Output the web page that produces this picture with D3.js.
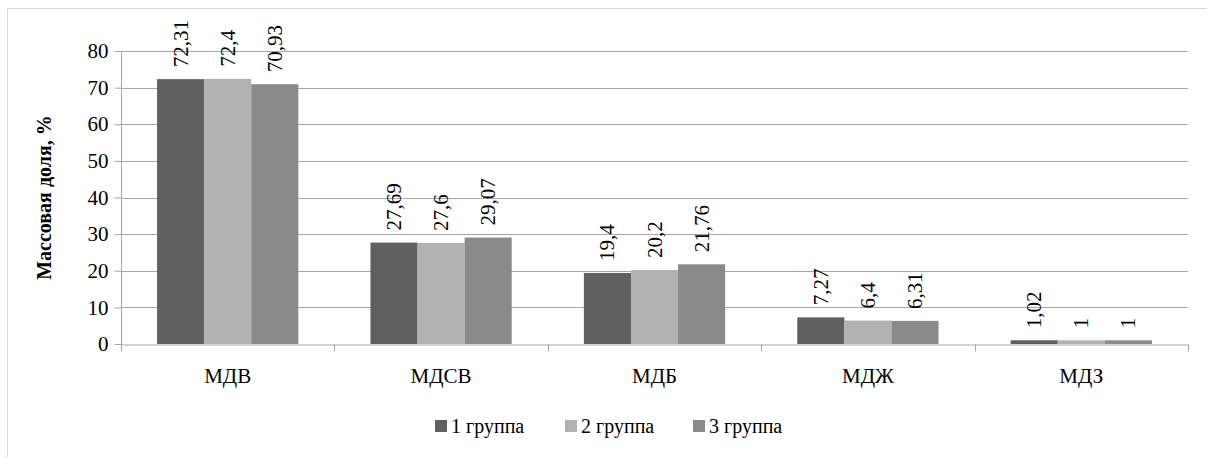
<!DOCTYPE html>
<html>
<head>
<meta charset="utf-8">
<script src="https://cdn.jsdelivr.net/npm/d3@7"></script>
<style>
  @font-face { font-family: "ChartSerif"; src: local("Liberation Serif"), local("LiberationSerif"), local("Times New Roman"); font-weight: normal; }
  @font-face { font-family: "ChartSerif"; src: local("Liberation Serif Bold"), local("LiberationSerif-Bold"), local("Times New Roman Bold"); font-weight: bold; }
  html, body { margin: 0; padding: 0; background: #fff; font-family: "Times New Roman"; }
  #chart text { font-family: "Times New Roman", "ChartSerif" !important; }
</style>
</head>
<body>
<svg id="chart" width="1207" height="457"></svg>
<script>
// Mass fractions by indicator for three groups
const categories = ["МДВ", "МДСВ", "МДБ", "МДЖ", "МДЗ"];
const seriesNames = ["1 группа", "2 группа", "3 группа"];
const group1 = [72.31, 27.69, 19.4, 7.27, 1.02];
const group2 = [72.4, 27.6, 20.2, 6.4, 1];
const group3 = [70.93, 29.07, 21.76, 6.31, 1];
const yTicks = [0, 10, 20, 30, 40, 50, 60, 70, 80];
const yTitle = "Массовая доля, %";

const seriesValues = [group1, group2, group3];
const colors = ["#606060", "#b2b2b2", "#8a8a8a"];
const FONT = '"Times New Roman"';

const svg = d3.select("#chart");
const W = 1207, H = 457;
const margin = { left: 121, right: 19, top: 51, bottom: 113 };
const plotW = W - margin.left - margin.right;
const plotH = H - margin.top - margin.bottom;

// Outer frame
svg.append("rect")
  .attr("x", 7.5).attr("y", 8.5)
  .attr("width", W).attr("height", H)
  .attr("fill", "none").attr("stroke", "#d9d9d9");

const g = svg.append("g").attr("transform", `translate(${margin.left},${margin.top})`);

const x0 = d3.scaleBand().domain(categories).range([0, plotW]).paddingInner(0).paddingOuter(0);
const x1 = d3.scaleBand().domain(seriesNames).range([0, x0.bandwidth()]).paddingInner(0).paddingOuter(0.766);
const y = d3.scaleLinear().domain([0, 80]).range([plotH, 0]);

// Horizontal gridlines
g.append("g").selectAll("line").data(yTicks.filter(d => d > 0)).join("line")
  .attr("x1", 0).attr("x2", plotW)
  .attr("y1", d => Math.round(y(d)) + 0.5).attr("y2", d => Math.round(y(d)) + 0.5)
  .attr("stroke", "#a6a6a6").attr("stroke-width", 1);

// Bars and rotated value labels
const groups = g.append("g").selectAll("g").data(categories).join("g")
  .attr("transform", d => `translate(${x0(d)},0)`);

groups.each(function (cat, ci) {
  const sel = d3.select(this);
  seriesNames.forEach((s, si) => {
    const v = seriesValues[si][ci];
    sel.append("rect")
      .attr("x", x1(s)).attr("width", x1.bandwidth())
      .attr("y", y(v)).attr("height", plotH - y(v))
      .attr("fill", colors[si]);
    sel.append("text")
      .attr("transform", `translate(${x1(s) + x1.bandwidth() / 2 + 7},${y(v) - 12}) rotate(-90)`)
      .attr("text-anchor", "start")
      .style("font-family", FONT)
      .attr("font-size", 21)
      .attr("fill", "#000")
      .text(String(v).replace(".", ","));
  });
});

// Y axis
const yAxis = d3.axisLeft(y).tickValues(yTicks).tickSize(7).tickPadding(6).tickFormat(d3.format("d"));
const ya = g.append("g").attr("transform", "translate(0.5,0)").call(yAxis);
ya.attr("font-family", null).attr("font-size", 21);
ya.select(".domain").attr("stroke", "#a6a6a6").attr("d", `M0,0V${plotH + 7}`);
ya.selectAll(".tick line").attr("stroke", "#a6a6a6");
ya.selectAll(".tick text").style("font-family", FONT).attr("font-size", 21).attr("fill", "#000");

// X axis
const xa = g.append("g").attr("transform", `translate(0,${plotH + 0.5})`)
  .call(d3.axisBottom(x0).tickSize(0).tickPadding(24));
xa.attr("font-family", null).attr("font-size", 21);
xa.select(".domain").attr("stroke", "#a6a6a6");
xa.selectAll(".tick text").style("font-family", FONT).attr("font-size", 21).attr("fill", "#000");
// Category boundary ticks
xa.append("g").selectAll("line").data(d3.range(categories.length + 1)).join("line")
  .attr("x1", i => Math.round(i * x0.step()) + 0.5).attr("x2", i => Math.round(i * x0.step()) + 0.5)
  .attr("y1", 0).attr("y2", 7)
  .attr("stroke", "#a6a6a6");

// Y axis title
svg.append("text")
  .attr("transform", `translate(51,${margin.top + plotH / 2}) rotate(-90)`)
  .attr("text-anchor", "middle")
  .style("font-family", FONT)
  .attr("font-size", 20).attr("font-weight", "bold")
  .text(yTitle);

// Legend
const legend = svg.append("g").attr("transform", "translate(435,426)");
const legendOffsets = [0, 130, 258];
seriesNames.forEach((s, i) => {
  const lg = legend.append("g").attr("transform", `translate(${legendOffsets[i]},0)`);
  lg.append("rect").attr("x", 0).attr("y", -6).attr("width", 12).attr("height", 12).attr("fill", colors[i]);
  lg.append("text").attr("x", 16).attr("y", 7)
    .style("font-family", FONT).attr("font-size", 20).text(s);
});
</script>
</body>
</html>
